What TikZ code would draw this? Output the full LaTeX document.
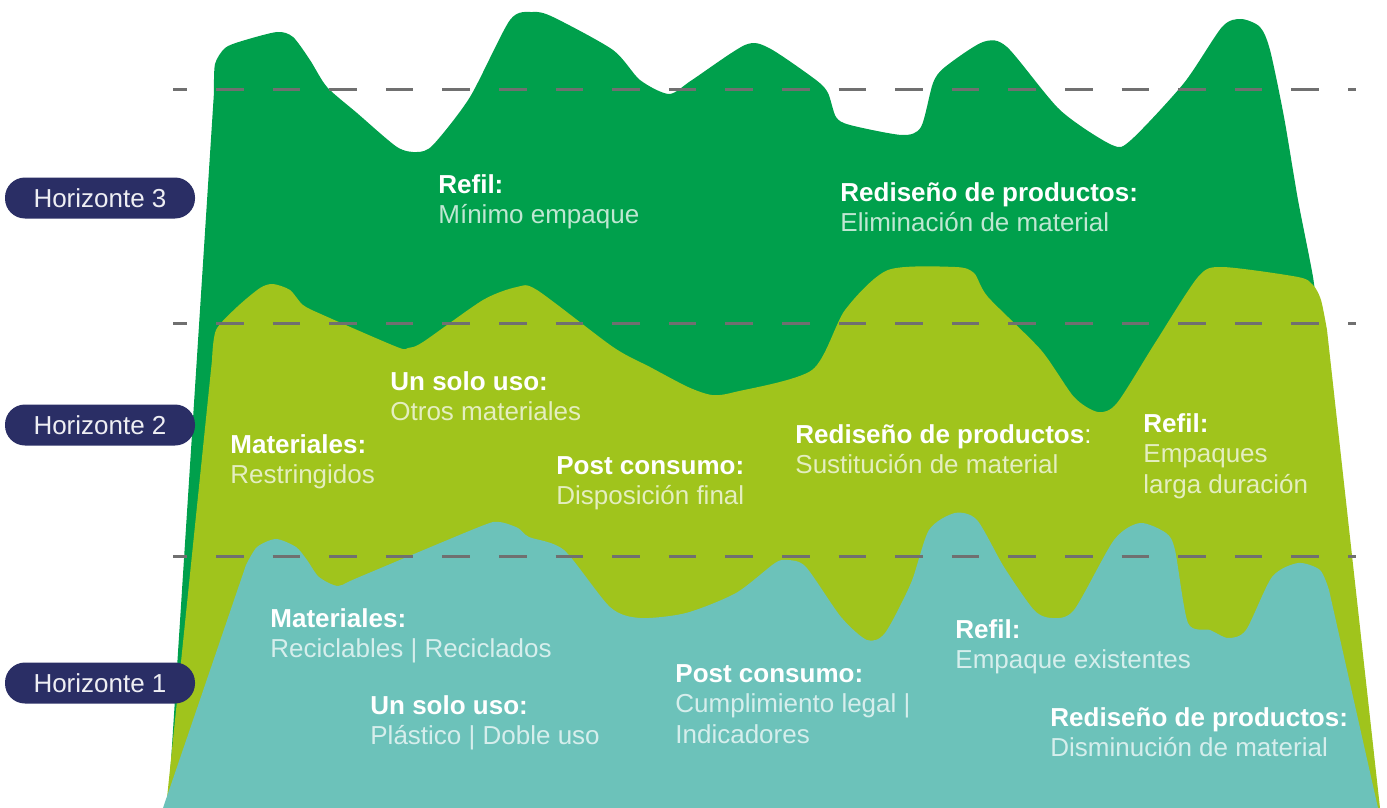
\documentclass[tikz,border=0pt]{standalone}
\usepackage{fontspec}
\setmainfont{Liberation Sans}
\definecolor{hthree}{RGB}{0,160,76}
\definecolor{htwo}{RGB}{160,196,28}
\definecolor{hone}{RGB}{108,194,186}
\definecolor{navy}{RGB}{42,46,101}
\definecolor{dashgray}{RGB}{112,112,112}
\tikzset{
  pill/.style={fill=navy, text=white!92!navy, rounded corners=10pt, minimum width=95pt,
    minimum height=20.5pt, inner sep=0pt, font=\fontsize{13pt}{15pt}\selectfont},
  label/.style={anchor=north west, inner sep=0pt, align=left, text=white,
    font=\fontsize{13pt}{15.3pt}\selectfont},
  level/.style={dashgray, line width=1.5pt, dash pattern=on 13.8pt off 14.5pt, dash phase=6.8pt}
}
\begin{document}
\begin{tikzpicture}[x=0.5pt,y=-0.5pt]
  \useasboundingbox (0,0) rectangle (1387,808);
  % horizonte 3
  \fill[hthree] (168,808) -- plot[smooth,tension=0.45] coordinates {(214,92) (215,64) (225,48) (242,41) (277,32) (293,37) (310,60) (327,87) (357,113) (397,147) (417,152) (433,145) (470,97) (510,20) (533,12) (553,17) (613,50) (640,80) (669,94) (692,80) (745,45) (769,48) (816,80) (828,93) (836,117) (850,125) (902,135) (921,127) (933,83) (945,67) (983,42) (1007,47) (1060,110) (1112,145) (1131,140) (1184,83) (1222,27) (1241,19) (1260,27) (1270,50) (1284,117) (1298,200) (1313,277) (1318,320)} -- (1330,808) -- cycle;
  % horizonte 2
  \fill[htwo] (166,808) -- plot[smooth,tension=0.45] coordinates {(212,360) (216,330) (237,307) (260,288) (273,284) (290,290) (303,305) (323,315) (397,347) (408,348) (423,342) (483,300) (517,287) (537,290) (613,347) (650,367) (688,387) (712,395) (735,392) (812,370) (845,310) (888,270) (955,267) (974,273) (988,297) (1041,350) (1074,397) (1098,412) (1117,403) (1155,343) (1198,277) (1222,267) (1298,277) (1313,285) (1321,300) (1327,330)} -- (1380,808) -- cycle;
  % horizonte 1
  \fill[hone] (163,808) -- plot[smooth,tension=0.45] coordinates {(246,565) (257,547) (276,539) (296,547) (307,560) (319,577) (338,586) (357,578) (479,527) (499,522) (518,528) (529,537) (564,550) (610,607) (640,618) (686,613) (736,593) (775,563) (788,560) (806,567) (841,617) (867,640) (885,633) (911,583) (929,530) (955,513) (977,520) (1004,567) (1034,610) (1052,618) (1074,610) (1114,540) (1140,523) (1166,533) (1175,550) (1188,623) (1210,630) (1228,638) (1246,630) (1272,577) (1298,563) (1320,570) (1329,590)} -- (1378,808) -- cycle;
  % niveles
  \foreach \y in {90,323,556}
    \draw[level] (173,\y) -- (1356,\y);
  % etiquetas
  \node[pill] (hor3) at (100,198) {Horizonte 3};
  \node[pill] (hor2) at (100,425) {Horizonte 2};
  \node[pill] (hor1) at (100,683) {Horizonte 1};
  % textos horizonte 3
  \node[label] (refil3) at (438,174) {\textbf{Refil:}\\ \textcolor{white!75!hthree}{Mínimo empaque}};
  \node[label] (redis3) at (840,182) {\textbf{Rediseño de productos:}\\ \textcolor{white!75!hthree}{Eliminación de material}};
  % textos horizonte 2
  \node[label] (uso2) at (390,371) {\textbf{Un solo uso:}\\ \textcolor{white!72!htwo}{Otros materiales}};
  \node[label] (mat2) at (230,434) {\textbf{Materiales:}\\ \textcolor{white!72!htwo}{Restringidos}};
  \node[label] (post2) at (556,456) {\textbf{Post consumo:}\\ \textcolor{white!72!htwo}{Disposición final}};
  \node[label] (redis2) at (795,424) {\textbf{Rediseño de productos}:\\ \textcolor{white!72!htwo}{Sustitución de material}};
  \node[label] (refil2) at (1143,413) {\textbf{Refil:}\\ \textcolor{white!72!htwo}{Empaques}\\ \textcolor{white!72!htwo}{larga duración}};
  % textos horizonte 1
  \node[label] (mat1) at (270,608) {\textbf{Materiales:}\\ \textcolor{white!72!hone}{Reciclables | Reciclados}};
  \node[label] (uso1) at (370,695) {\textbf{Un solo uso:}\\ \textcolor{white!72!hone}{Plástico | Doble uso}};
  \node[label] (post1) at (675,664) {\textbf{Post consumo:}\\ \textcolor{white!72!hone}{Cumplimiento legal |}\\ \textcolor{white!72!hone}{Indicadores}};
  \node[label] (refil1) at (955,619) {\textbf{Refil:}\\ \textcolor{white!72!hone}{Empaque existentes}};
  \node[label] (redis1) at (1050,707) {\textbf{Rediseño de productos:}\\ \textcolor{white!72!hone}{Disminución de material}};
\end{tikzpicture}
\end{document}
